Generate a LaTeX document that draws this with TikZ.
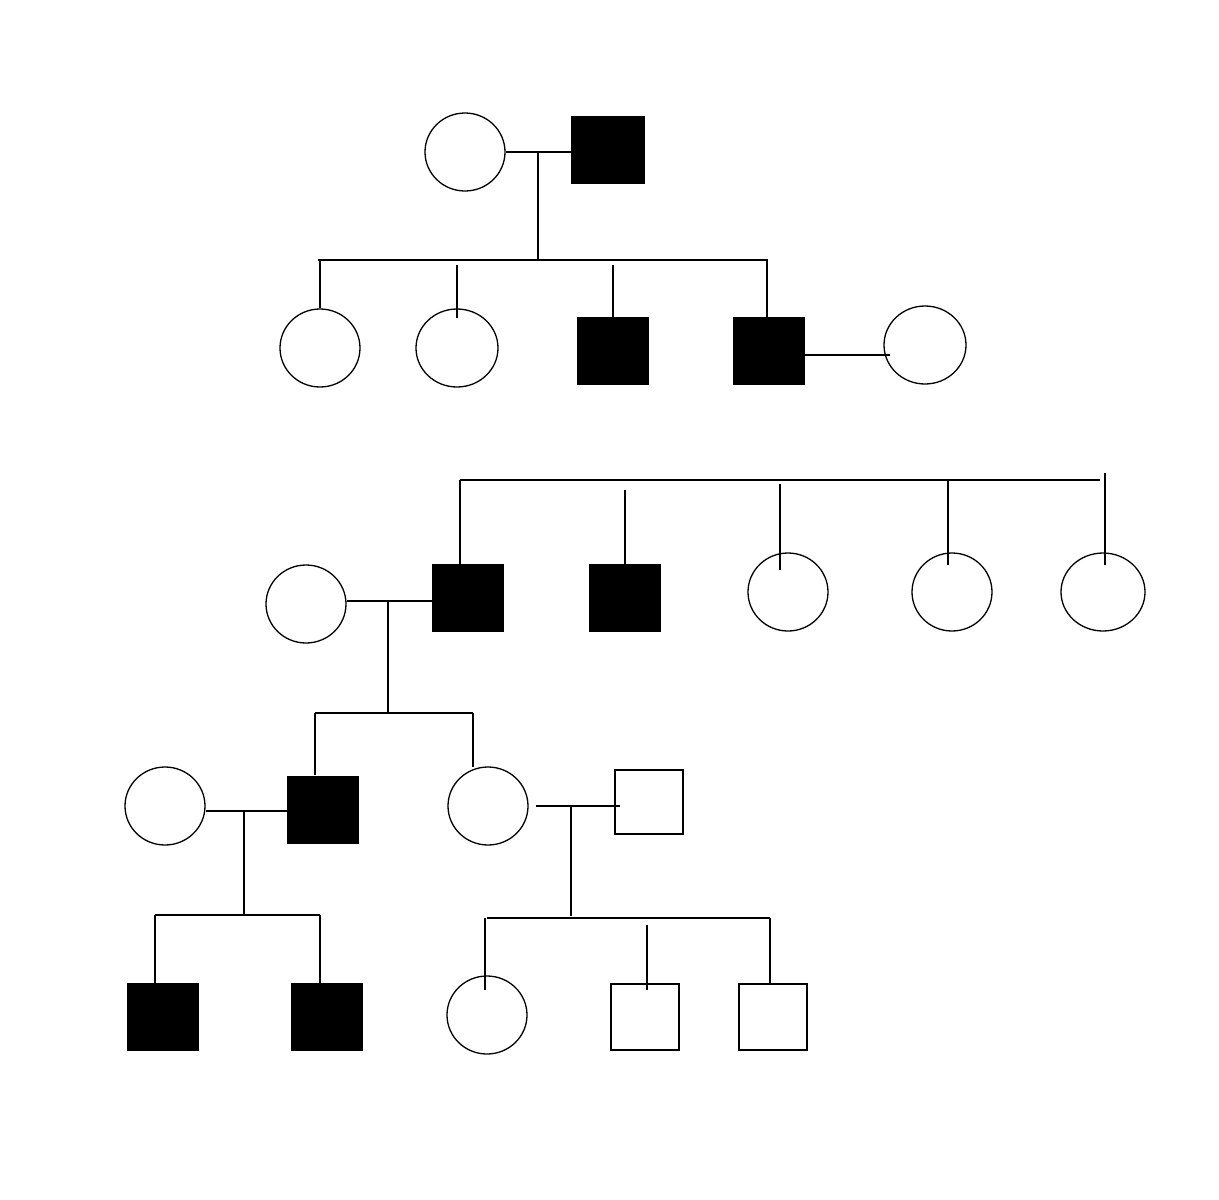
\documentclass[tikz,border=0pt]{standalone}
\usetikzlibrary{shapes.geometric}
\begin{document}
\begin{tikzpicture}[x=1pt,y=-1pt,line width=1.3pt,
  fem/.style={draw,ellipse,minimum width=80pt,minimum height=78pt,inner sep=0pt},
  mal/.style={draw,rectangle,minimum width=70pt,minimum height=66pt,inner sep=0pt},
  aff/.style={mal,fill=black}]
\useasboundingbox (0,0) rectangle (1219,1200);
% Gen I
\node[fem] (i1) at (465,152) {};
\node[aff,minimum width=72pt,minimum height=66pt] (i2) at (608,150) {};
\coordinate (m1) at (538,152);
\draw (i1.east) -- (m1) -- (i2.west |- m1);
\coordinate (s1) at (538,260);
\draw (m1) -- (s1);
\coordinate (s1l) at (318,260); \coordinate (s1r) at (768,260);
\draw (s1l) -- (s1r);
% Gen II
\node[fem] (ii1) at (320,348) {};
\node[fem,minimum width=82pt] (ii2) at (457,348) {};
\node[aff] (ii3) at (613,351) {};
\node[aff] (ii4) at (769,351) {};
\node[fem,minimum width=82pt] (ii5) at (925,345) {};
\draw (320,260) -- (ii1.north);
\draw (457,265) -- (457,318);
\draw (613,265) -- (ii3.north);
\draw (767,260) -- (767,318);
\draw (ii4.east |- 0,355) -- (890,355);
% Gen III sibship
\coordinate (t1) at (460,480); \coordinate (t2) at (1100,480);
\draw (t1) -- (t2);
\node[fem] (iii0) at (306,604) {};
\node[aff] (iii1) at (468,598) {};
\node[aff] (iii2) at (625,598) {};
\node[fem] (iii3) at (788,592) {};
\node[fem] (iii4) at (952,592) {};
\node[fem,minimum width=84pt] (iii5) at (1103,592) {};
\draw (t1) -- (460,565);
\draw (625,490) -- (iii2.north);
\draw (780,484) -- (780,570);
\draw (948,480) -- (948,565);
\draw (1105,473) -- (1105,565);
\coordinate (m3) at (388,601);
\draw (iii0.east |- m3) -- (iii1.west |- m3);
\draw (m3) -- (388,713);
\draw (315,713) -- (473,713);
% Gen IV
\node[fem] (iv0) at (165,806) {};
\node[aff] (iv1) at (323,810) {};
\node[fem] (iv2) at (488,806) {};
\node[mal,minimum width=68pt,minimum height=64pt] (iv3) at (649,802) {};
\draw (315,713) -- (315,775);
\draw (473,713) -- (473,767);
\coordinate (m4) at (244,811);
\draw (iv0.east |- m4) -- (iv1.west |- m4);
\draw (m4) -- (244,915);
\draw (155,915) -- (320,915);
\coordinate (m5) at (571,806);
\draw (536,806) -- (620,806);
\draw (m5) -- (571,916);
\draw (487,918) -- (770,918);
% Gen V
\node[aff] (v1) at (163,1017) {};
\node[aff] (v2) at (327,1017) {};
\node[fem] (v3) at (487,1015) {};
\node[mal,minimum width=68pt] (v4) at (645,1017) {};
\node[mal,minimum width=68pt] (v5) at (773,1017) {};
\draw (155,915) -- (155,984);
\draw (320,915) -- (320,984);
\draw (485,918) -- (485,990);
\draw (647,925) -- (647,990);
\draw (770,918) -- (770,984);
\end{tikzpicture}
\end{document}
